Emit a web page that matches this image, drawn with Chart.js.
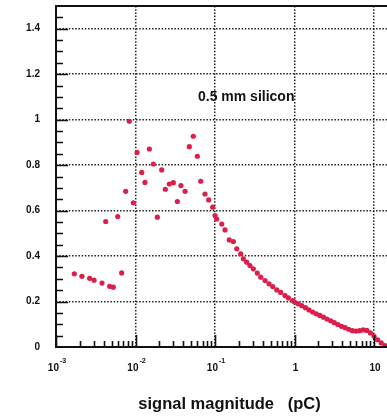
<!DOCTYPE html>
<html>
<head>
<meta charset="utf-8">
<script src="https://cdn.jsdelivr.net/npm/chart.js@4/dist/chart.umd.min.js"></script>
<style>
  html, body { margin: 0; padding: 0; background: #fff; overflow: hidden; }
  #wrap { width: 387px; height: 417px; overflow: hidden; }
  canvas { display: block; }
</style>
</head>
<body>
<div id="wrap"><canvas id="c" width="400" height="417"></canvas></div>
<script>
// Signal magnitude spectrum for a 0.5 mm silicon sensor
const signalPC = [
  0.0017, 0.00212, 0.00265, 0.00301, 0.00379, 0.00422, 0.00473, 0.00526,
  0.00597, 0.0067, 0.00752, 0.00836, 0.0094, 0.01045, 0.01197, 0.01316,
  0.01493, 0.01675, 0.0188, 0.02134, 0.0237, 0.0266, 0.0299, 0.0336,
  0.0373, 0.042, 0.0475, 0.0533, 0.0599, 0.0661, 0.0748, 0.0832,
  0.0935, 0.100, 0.105, 0.1216, 0.1336, 0.151, 0.170, 0.1875,
  0.2105, 0.227, 0.250, 0.275, 0.303, 0.340, 0.376, 0.426,
  0.478, 0.532, 0.597, 0.67, 0.759, 0.836, 0.949,
  1.0, 1.11, 1.23, 1.37, 1.52, 1.69, 1.87, 2.08, 2.31, 2.56, 2.85,
  3.16, 3.51, 3.9, 4.33, 4.8, 5.33, 5.92, 6.57, 7.3, 8.1, 9.0,
  10.0, 11.1, 12.3, 13.7
];
const counts = [
  0.322, 0.311, 0.302, 0.294, 0.281, 0.552, 0.267, 0.263,
  0.574, 0.326, 0.685, 0.993, 0.634, 0.856, 0.768, 0.724,
  0.871, 0.805, 0.571, 0.779, 0.694, 0.717, 0.723, 0.640,
  0.710, 0.685, 0.881, 0.927, 0.839, 0.729, 0.673, 0.647,
  0.615, 0.578, 0.563, 0.541, 0.515, 0.471, 0.464, 0.432,
  0.410, 0.388, 0.373, 0.358, 0.344, 0.325, 0.307, 0.292,
  0.278, 0.266, 0.251, 0.240, 0.226, 0.216, 0.204,
  0.198, 0.190, 0.182, 0.173, 0.163, 0.154, 0.146, 0.139, 0.131, 0.123, 0.115,
  0.107, 0.099, 0.091, 0.085, 0.078, 0.072, 0.070, 0.072, 0.075, 0.073, 0.062,
  0.047, 0.032, 0.018, 0.006
];
const xDecades = [0.001, 0.01, 0.1, 1, 10];
const xExponents = [-3, -2, -1, 0, 1];
const yMajor = [0, 0.2, 0.4, 0.6, 0.8, 1.0, 1.2, 1.4];
const yLabels = ['0', '0.2', '0.4', '0.6', '0.8', '1', '1.2', '1.4'];
const noteText = '0.5 mm silicon';
const xTitle = 'signal magnitude   (pC)';

const FONT = "'Liberation Sans', Arial, Helvetica, sans-serif";
const INK = '#111';

// Frame, inward tick marks, exponent labels and texts
const decorations = {
  id: 'decorations',
  afterDatasetsDraw(chart) {
    const { ctx, scales: { x, y } } = chart;
    ctx.save();
    ctx.fillStyle = INK;
    ctx.font = 'bold 14px ' + FONT;
    ctx.textAlign = 'left';
    ctx.textBaseline = 'middle';
    ctx.fillText(noteText, x.getPixelForValue(0.061), y.getPixelForValue(1.098));
    ctx.restore();
  },
  afterDraw(chart) {
    const { ctx, chartArea: a, scales: { x, y } } = chart;
    ctx.save();
    ctx.strokeStyle = INK;
    ctx.lineWidth = 2;
    ctx.strokeRect(a.left, a.top, a.right - a.left, a.bottom - a.top);

    // y ticks: majors every 0.2, minors every 0.05
    ctx.lineWidth = 1.6;
    ctx.beginPath();
    for (let k = 1; k < 30; k++) {
      const v = k * 0.05;
      const py = Math.round(y.getPixelForValue(v)) + 0.5;
      const major = (k % 4 === 0);
      ctx.moveTo(a.left, py);
      ctx.lineTo(a.left + (major ? 12 : 7), py);
    }
    ctx.stroke();

    // x ticks: decades and 2..9 subdivisions
    ctx.beginPath();
    for (let e = -3; e <= 1; e++) {
      for (let m = 1; m <= 9; m++) {
        const v = m * Math.pow(10, e);
        if (v > x.max) continue;
        const px = Math.round(x.getPixelForValue(v)) + 0.5;
        ctx.moveTo(px, a.bottom);
        ctx.lineTo(px, a.bottom - (m === 1 ? 12 : 6));
      }
    }
    ctx.stroke();

    // x tick labels with superscript exponents
    ctx.fillStyle = INK;
    ctx.textBaseline = 'alphabetic';
    ctx.textAlign = 'left';
    xDecades.forEach((v, i) => {
      const e = xExponents[i];
      const px = x.getPixelForValue(v);
      let base, sup = '';
      if (e === 0) base = '1';
      else if (e === 1) base = '10';
      else { base = '10'; sup = String(e); }
      ctx.font = 'bold 10px ' + FONT;
      const wb = ctx.measureText(base).width;
      ctx.font = 'bold 7px ' + FONT;
      const ws = sup ? ctx.measureText(sup).width + 1 : 0;
      const x0 = px - (wb + ws) / 2 + 1;
      ctx.font = 'bold 10px ' + FONT;
      ctx.fillText(base, x0, 371);
      if (sup) {
        ctx.font = 'bold 7px ' + FONT;
        ctx.fillText(sup, x0 + wb + 1, 363);
      }
    });

    // axis title
    ctx.font = 'bold 16.5px ' + FONT;
    ctx.textAlign = 'center';
    ctx.fillText(xTitle, 229.5, 409);
    ctx.restore();
  }
};

const chart = new Chart(document.getElementById('c'), {
  type: 'scatter',
  data: {
    datasets: [{
      data: signalPC.map((v, i) => ({ x: v, y: counts[i] })),
      pointRadius: 2.6,
      pointBorderWidth: 0,
      backgroundColor: '#dc1e4b',
      borderColor: '#dc1e4b'
    }]
  },
  options: {
    responsive: false,
    animation: false,
    devicePixelRatio: 1,
    layout: { autoPadding: false, padding: { top: 6, right: 2, left: 0, bottom: 0 } },
    plugins: { legend: { display: false }, tooltip: { enabled: false } },
    scales: {
      x: {
        type: 'logarithmic',
        min: 0.001,
        max: 20,
        afterBuildTicks: (s) => { s.ticks = xDecades.map(v => ({ value: v })); },
        afterFit: (s) => { s.height = 70; s.paddingLeft = 0; s.paddingRight = 0; },
        ticks: { display: false },
        grid: {
          drawTicks: false,
          lineWidth: 1.5,
          color: (c) => (c.tick && c.tick.value === 0.001) ? 'rgba(0,0,0,0)' : '#222'
        },
        border: { display: false, dash: [1.5, 1.7] }
      },
      y: {
        min: 0,
        max: 1.5,
        afterBuildTicks: (s) => { s.ticks = yMajor.map(v => ({ value: v })); },
        afterFit: (s) => { s.width = 56; s.paddingTop = 0; s.paddingBottom = 0; },
        ticks: {
          padding: 16,
          color: INK,
          font: { family: FONT, size: 10, weight: 'bold' },
          callback: (v, i) => yLabels[i]
        },
        grid: {
          drawTicks: false,
          lineWidth: 1.5,
          color: (c) => (c.tick && c.tick.value === 0) ? 'rgba(0,0,0,0)' : '#222'
        },
        border: { display: false, dash: [1.5, 1.7] }
      }
    }
  },
  plugins: [decorations]
});
</script>
</body>
</html>
